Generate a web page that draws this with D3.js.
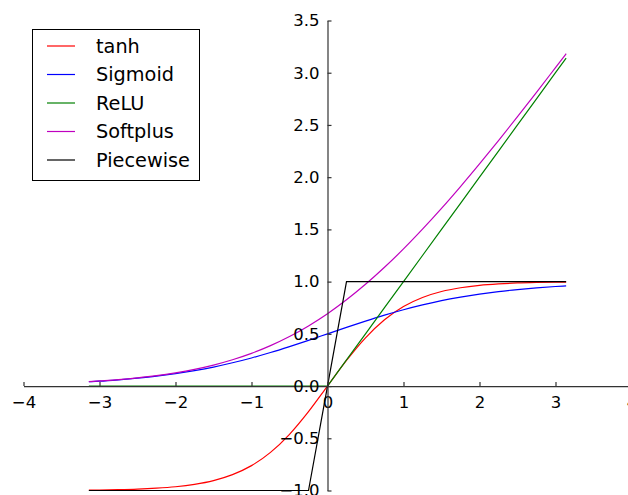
<!DOCTYPE html>
<html lang="en">
<head>
<meta charset="UTF-8">
<title>Activation functions</title>
<script src="https://d3js.org/d3.v7.min.js"></script>
<style>
  body { margin: 0; background: #fff; }
  text { font-family: "DejaVu Sans", sans-serif; fill: #000; }
</style>
</head>
<body>
<svg id="canvas"></svg>
<script>

// sample points along x (-pi .. pi)
let xs = [-3.14, -3, -2.75, -2.5, -2.25, -2, -1.75, -1.5, -1.25, -1, -0.75, -0.5, -0.25,
          0, 0.25, 0.5, 0.75, 1, 1.25, 1.5, 1.75, 2, 2.25, 2.5, 2.75, 3, 3.14]

let tanhVals = [-0.996, -0.995, -0.992, -0.987, -0.978, -0.964, -0.941, -0.905, -0.848, -0.762, -0.635, -0.462, -0.245,
                0, 0.245, 0.462, 0.635, 0.762, 0.848, 0.905, 0.941, 0.964, 0.978, 0.987, 0.992, 0.995, 0.996]
let sigmoidVals = [0.042, 0.047, 0.060, 0.076, 0.095, 0.119, 0.148, 0.182, 0.223, 0.269, 0.321, 0.378, 0.438,
                   0.5, 0.562, 0.622, 0.679, 0.731, 0.777, 0.818, 0.852, 0.881, 0.905, 0.924, 0.940, 0.953, 0.959]
let reluVals = [0, 0, 0, 0, 0, 0, 0, 0, 0, 0, 0, 0, 0,
                0, 0.25, 0.5, 0.75, 1, 1.25, 1.5, 1.75, 2, 2.25, 2.5, 2.75, 3, 3.14]
let softplusVals = [0.042, 0.049, 0.062, 0.079, 0.100, 0.127, 0.160, 0.201, 0.252, 0.313, 0.387, 0.474, 0.576,
                    0.693, 0.826, 0.974, 1.137, 1.313, 1.502, 1.701, 1.910, 2.127, 2.350, 2.579, 2.812, 3.049, 3.182]
let piecewiseVals = [-1, -1, -1, -1, -1, -1, -1, -1, -1, -1, -1, -1, -1,
                     0, 1, 1, 1, 1, 1, 1, 1, 1, 1, 1, 1, 1, 1]

let seriesNames = ['tanh', 'Sigmoid', 'ReLU', 'Softplus', 'Piecewise']
let seriesColors = ['#ff0000', '#0000ff', '#008000', '#bf00bf', '#000000']
let seriesVals = [tanhVals, sigmoidVals, reluVals, softplusVals, piecewiseVals]
let smooth = [true, true, false, true, false]

let xTicks = [-4, -3, -2, -1, 0, 1, 2, 3, 4]
let yTicks = [-1.0, -0.5, 0.0, 0.5, 1.0, 1.5, 2.0, 2.5, 3.0, 3.5]

let width = 628
let height = 495

let canvas = d3.select('#canvas')
canvas.attr('width', width)
canvas.attr('height', height)

let xScale = d3.scaleLinear().domain([-4, 4]).range([23.5, 631.5])
let yScale = d3.scaleLinear().domain([-1, 3.5]).range([490.5, 20.5])

let minus = (s) => s.replace('-', '\u2212')

// curves
let drawLines = () => {
    seriesVals.forEach((vals, i) => {
        let line = d3.line()
            .x((d, j) => xScale(xs[j]))
            .y((d) => yScale(d))
            .curve(smooth[i] ? d3.curveMonotoneX : d3.curveLinear)
        canvas.append('path')
            .datum(vals)
            .attr('d', line)
            .attr('fill', 'none')
            .attr('stroke', seriesColors[i])
            .attr('stroke-width', 1.2)
    })
}

// spines through the origin, ticks pointing inward
let drawAxes = () => {
    let xAxis = d3.axisTop(xScale)
        .tickValues(xTicks)
        .tickSize(4)
        .tickSizeOuter(0)
        .tickFormat(d => minus(d3.format('d')(d)))
    let yAxis = d3.axisRight(yScale)
        .tickValues(yTicks)
        .tickSize(4)
        .tickSizeOuter(0)
        .tickFormat(d => minus(d3.format('.1f')(d)))

    let gx = canvas.append('g')
        .attr('transform', 'translate(0,' + yScale(0) + ')')
        .call(xAxis)
    gx.selectAll('text')
        .attr('y', 10)
        .attr('dy', '0.71em')
        .attr('font-size', 16.5)
        .attr('font-family', 'DejaVu Sans')
    let gy = canvas.append('g')
        .attr('transform', 'translate(' + xScale(0) + ',0)')
        .call(yAxis)
    gy.selectAll('text')
        .attr('x', -8)
        .attr('text-anchor', 'end')
        .attr('font-size', 16.5)
        .attr('font-family', 'DejaVu Sans')

    canvas.selectAll('.domain, .tick line')
        .attr('stroke', '#333')
        .attr('stroke-width', 1.2)
}

let drawLegend = () => {
    let lg = canvas.append('g')
    lg.append('rect')
        .attr('x', 32.5).attr('y', 29.5)
        .attr('width', 167).attr('height', 151)
        .attr('fill', '#fff')
        .attr('stroke', '#000')
        .attr('stroke-width', 1)
    seriesNames.forEach((name, i) => {
        let y = 46 + i * 28.5
        lg.append('line')
            .attr('x1', 47).attr('x2', 75)
            .attr('y1', y).attr('y2', y)
            .attr('stroke', seriesColors[i])
            .attr('stroke-width', 1.2)
        lg.append('text')
            .attr('x', 96).attr('y', y)
            .attr('dy', '0.36em')
            .attr('font-size', 19.3)
            .text(name)
    })
}

drawLines()
drawAxes()
drawLegend()

</script>
</body>
</html>
